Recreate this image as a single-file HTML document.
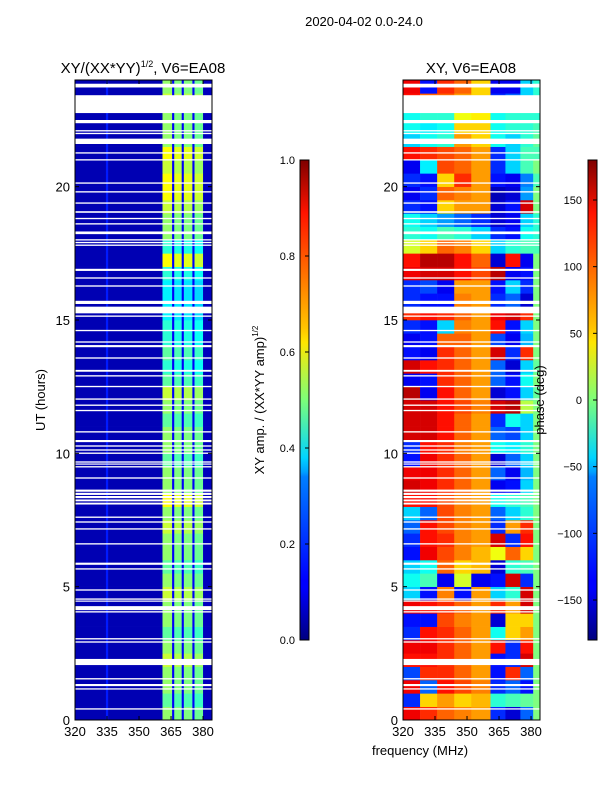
<!DOCTYPE html>
<html><head><meta charset="utf-8"><style>
html,body{margin:0;padding:0;background:#fff;}
svg text{font-family:"Liberation Sans","DejaVu Sans",sans-serif;fill:#000;}
</style></head><body>
<svg id="fig" width="600" height="800" viewBox="0 0 600 800" xmlns="http://www.w3.org/2000/svg">
<defs>
<linearGradient id="jetv" x1="0" y1="1" x2="0" y2="0">
<stop offset="0" stop-color="#00007f"/><stop offset="0.11" stop-color="#0000ff"/><stop offset="0.125" stop-color="#0000ff"/>
<stop offset="0.34" stop-color="#007fff"/><stop offset="0.35" stop-color="#00a0ff"/><stop offset="0.38" stop-color="#00d4ff"/>
<stop offset="0.5" stop-color="#7cff79"/><stop offset="0.62" stop-color="#ffe600"/><stop offset="0.65" stop-color="#ffc400"/>
<stop offset="0.89" stop-color="#ff1300"/><stop offset="1" stop-color="#7f0000"/>
</linearGradient>
</defs>
<text x="364" y="26" font-size="13" text-anchor="middle">2020-04-02 0.0-24.0</text>
<text x="143" y="73" font-size="15" text-anchor="middle">XY/(XX*YY)<tspan font-size="9" dy="-6">1/2</tspan><tspan dy="6">, V6=EA08</tspan></text>
<text x="471" y="73" font-size="15" text-anchor="middle">XY, V6=EA08</text>
<g id="left"></g>
<g id="right"></g>
<g id="axes"></g>
<text transform="translate(45,400) rotate(-90)" font-size="13" text-anchor="middle">UT (hours)</text>
<text x="420" y="755" font-size="13" text-anchor="middle">frequency (MHz)</text>
<rect x="300" y="160" width="9" height="480" fill="url(#jetv)" stroke="#000" stroke-width="1"/>
<text transform="translate(264,400) rotate(-90)" font-size="13" text-anchor="middle">XY amp. / (XX*YY amp)<tspan font-size="8" dy="-6">1/2</tspan></text>
<rect x="588" y="160" width="9" height="480" fill="url(#jetv)" stroke="#000" stroke-width="1"/>
<g id="cbticks"></g>
<text transform="translate(544,400) rotate(-90)" font-size="13" text-anchor="middle">phase (deg)</text>
</svg>
<script>
// ---- data ----
const hourRows = 48;
const ampFreqEdges = [320,334.5,335.5,361,365.5,366.5,370,371,375,376,380,384];
const ampProfile   = [0.05,0.15,0.05,0.52,0.12,0.5,0.12,0.5,0.12,0.48,0.06];
const ampRowFactor = [1,0.9,1,1,1.1,1,0.9,1,1,1.1,1,0.9,1,1,1.1,1,1.2,1,1,0.9,1,1,0.9,1,
  1.1,0.9,0.8,0.9,0.8,0.8,0.7,0.7,0.7,0.8,1.2,0.8,1,1,1.1,1.2,1.2,1.1,1.2,1,1,1,1.1,1];
const phaseFreqEdges = [320,328,336,344,352,361,368,375,381,384];
const phase = [
[140,120,100,90,80,-120,-150,-100,0],[-120,60,80,60,70,-30,-20,-10,0],[140,-100,130,110,90,-120,-100,-130,0],[-110,120,120,100,80,-130,120,-100,0],
[130,130,120,100,80,-130,-120,150,0],[140,140,120,100,80,130,-120,130,0],[-120,130,120,100,80,-40,60,80,0],[-130,-130,110,90,80,-150,60,60,0],
[140,130,120,100,80,120,80,150,0],[-60,-130,90,-130,80,-60,-30,150,0],[-40,-20,-140,30,-140,-130,150,-120,0],[-60,-40,100,60,70,-150,-30,-20,0],
[-130,140,110,90,70,40,100,60,0],[-120,130,120,90,80,150,-120,130,0],[-100,130,110,90,80,-120,80,120,0],[-60,-100,110,90,80,-100,-60,-30,0],
[130,130,110,90,80,-40,-30,-20,0],[150,140,120,100,80,-140,-130,-60,0],[140,140,120,100,80,-100,-140,-70,0],[-130,140,120,100,80,-150,-100,-60,0],
[-120,130,120,90,80,-40,-50,-30,0],[150,150,130,100,80,-100,-110,-60,0],[150,150,130,100,80,-120,-40,-60,0],[150,150,130,110,90,150,160,20,0],
[160,-140,130,100,80,-150,-130,-60,-10],[-140,-130,120,100,80,-100,-130,-40,0],[150,130,120,100,80,-100,-150,-60,-10],[-130,-140,120,100,80,150,-120,120,0],
[-140,-130,100,100,80,-110,-140,-70,0],[-120,-130,-60,90,80,130,-130,-60,0],[120,130,120,100,80,140,150,120,0],[-120,-130,-130,90,80,-120,-100,-150,0],
[-120,-110,-140,80,80,-130,-60,-120,0],[140,150,150,130,110,160,-140,-130,0],[130,160,160,130,100,-150,130,-140,0],[30,60,100,90,60,-60,-30,-20,-20],
[-30,-40,-20,-30,-60,-120,-130,-40,-30],[-40,-60,-80,-100,-120,-150,-140,-60,-30],[-120,-130,60,80,80,-150,-130,150,0],[-140,-120,100,90,80,-160,-150,-80,0],
[-120,-130,60,120,80,-130,-140,-90,-20],[-140,-50,110,100,80,-120,-60,-20,0],[130,120,110,100,80,-120,-60,-20,-20],[-60,-40,-30,80,60,-40,-60,-30,-10],
[-40,-50,-40,60,60,-40,-30,-30,-20],[-40,-30,-30,40,50,-40,-30,-30,-30],[130,100,100,80,60,-120,-100,-60,-30],[140,-130,120,100,60,-140,-140,-60,-30]];
const gaps = [[23.72,23.86],[22.76,23.43],[22.38,22.5],[22.07,22.12],[21.97,22.02],[21.6,21.8],[21.24,21.29],[20.98,21.03],[20.11,20.16],[19.78,19.83],
[19.36,19.41],[19.02,19.08],[18.78,18.83],[18.58,18.63],[18.22,18.32],[17.98,18.03],[17.88,17.93],[17.78,17.83],[16.84,16.92],[16.55,16.6],[16.25,16.3],
[15.6,15.72],[15.25,15.5],[15.12,15.17],[14.58,14.63],[14.15,14.2],[13.98,14.06],[13.55,13.6],[13.06,13.13],[12.88,12.93],[12.48,12.53],[12.01,12.06],
[11.78,11.83],[11.58,11.63],[10.78,10.83],[10.42,10.5],[10.25,10.3],[10.1,10.15],[9.98,10.03],[9.65,9.7],[9.58,9.62],[9.47,9.52],[9.05,9.1],
[8.56,8.64],[8.44,8.52],[8.32,8.4],[8.2,8.27],[8.08,8.15],[7.58,7.63],[7.4,7.45],[7.14,7.19],[6.58,6.63],[5.82,5.9],[5.64,5.69],[4.85,4.9],
[4.51,4.56],[4.44,4.48],[4.12,4.27],[4.03,4.08],[3.02,3.07],[2.9,2.95],[2.06,2.29],[1.52,1.57],[1.27,1.35],[1.14,1.19],[0.39,0.44]];
const xTicks = [320,335,350,365,380];
const yTicks = [0,5,10,15,20];
const ampTicks = [0.0,0.2,0.4,0.6,0.8,1.0];
const phaseTicks = [-150,-100,-50,0,50,100,150];
// ---- axes ----
const NS='http://www.w3.org/2000/svg';
const panels = {left:75, right:403};
const pw=137, plotTop=80, plotBot=720;
function xs(f,x0){return x0+(f-320)/(384.2-320)*pw;}
function ys(h){return plotBot-(h/24)*(plotBot-plotTop);}
function jet(v){v=Math.max(0,Math.min(1,v));
  const c=t=>Math.round(255*Math.max(0,Math.min(1,1.5-Math.abs(4*v-t))));
  return `rgb(${c(3)},${c(2)},${c(1)})`;}
function mk(tag,parent,attrs){const e=document.createElementNS(NS,tag);for(const k in attrs)e.setAttribute(k,attrs[k]);parent.appendChild(e);return e;}
const L=document.getElementById('left'), R=document.getElementById('right'), A=document.getElementById('axes'), C=document.getElementById('cbticks');
for(let r=0;r<hourRows;r++){
  const y1=ys((r+1)*24/hourRows), y0=ys(r*24/hourRows);
  for(let c=0;c<ampProfile.length;c++){
    const base=ampProfile[c]; const v=base>0.3?base*ampRowFactor[r]:base;
    const x0=xs(ampFreqEdges[c],panels.left), x1=xs(ampFreqEdges[c+1],panels.left);
    const e=mk('rect',L,{x:x0,y:y1,width:x1-x0+0.3,height:y0-y1+0.3,fill:jet(v)});
    
    
  }
  for(let c=0;c<phase[r].length;c++){
    const x0=xs(phaseFreqEdges[c],panels.right), x1=xs(phaseFreqEdges[c+1],panels.right);
    const e=mk('rect',R,{x:x0,y:y1,width:x1-x0+0.3,height:y0-y1+0.3,fill:jet((phase[r][c]+180)/360)});
    
    
  }
}
for(const p of ['left','right']){
  const x0=panels[p];
  for(const g of gaps){
    const e=mk('rect',A,{x:x0,y:ys(g[1]),width:pw,height:Math.max(1.2,ys(g[0])-ys(g[1])),fill:'#fff'});
    
    
  }
  const fr=mk('rect',A,{x:x0,y:plotTop,width:pw,height:plotBot-plotTop,fill:'none',stroke:'#000','stroke-width':1});
  
  
  for(const t of xTicks){const x=xs(t,x0);
    mk('line',A,{x1:x,x2:x,y1:plotBot,y2:plotBot-4,stroke:'#000'});mk('line',A,{x1:x,x2:x,y1:plotTop,y2:plotTop+4,stroke:'#000'});
    const tx=mk('text',A,{x:x,y:plotBot+16,'font-size':13,'text-anchor':'middle'});tx.textContent=t;
    
    }
  for(const t of yTicks){const y=ys(t);
    mk('line',A,{x1:x0,x2:x0+4,y1:y,y2:y,stroke:'#000'});mk('line',A,{x1:x0+pw,x2:x0+pw-4,y1:y,y2:y,stroke:'#000'});
    const tx=mk('text',A,{x:x0-5,y:y+5,'font-size':13,'text-anchor':'end'});tx.textContent=t;
    
    }
}
for(const t of ampTicks){const y=640-t*480;
  mk('line',C,{x1:309,x2:305,y1:y,y2:y,stroke:'#000'});
  const tx=mk('text',C,{x:295,y:y+4,'font-size':11,'text-anchor':'end'});tx.textContent=t.toFixed(1);
  
  }
for(const t of phaseTicks){const y=640-(t+180)/360*480;
  mk('line',C,{x1:597,x2:593,y1:y,y2:y,stroke:'#000'});
  const tx=mk('text',C,{x:582,y:y+4,'font-size':11,'text-anchor':'end'});tx.textContent=t<0?'\u2212'+(-t):String(t);
  
  }
</script>
</body></html>
